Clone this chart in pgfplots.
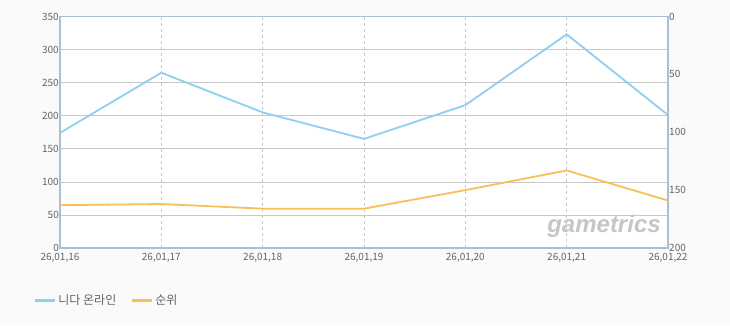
\documentclass[border=0pt]{standalone}
\usepackage{fontspec}
\setmainfont{Noto Sans CJK KR}
\newfontfamily\wmfont{Liberation Sans}
\usepackage{pgfplots}
\pgfplotsset{compat=1.18}
\definecolor{bluel}{RGB}{143,207,240}
\definecolor{orangel}{RGB}{250,190,90}
\definecolor{framec}{RGB}{170,190,214}
\definecolor{gridc}{RGB}{200,200,200}
\definecolor{bgc}{RGB}{250,250,250}
\definecolor{labelc}{RGB}{100,100,100}
\begin{document}
\begin{tikzpicture}[x=1pt,y=1pt]
\fill[bgc] (0,0) rectangle (730,325);
\begin{axis}[
  at={(60pt,77pt)}, anchor=south west,
  scale only axis, width=608pt, height=231.5pt,
  xmin=0, xmax=6, ymin=0, ymax=350,
  axis background/.style={fill=white},
  xtick={0,...,6},
  xticklabels={{26,01,16},{26,01,17},{26,01,18},{26,01,19},{26,01,20},{26,01,21},{26,01,22}},
  ytick={0,50,...,350},
  major tick length=0pt,
  xmajorgrids, ymajorgrids,
  x grid style={gridc, dashed, line width=0.6pt},
  y grid style={gridc, line width=0.7pt},
  axis line style={draw=framec, line width=1.6pt},
  tick label style={font=\fontsize{10}{12}\selectfont, text=labelc},
  yticklabel style={inner sep=1pt},
  xticklabel style={inner sep=0pt, yshift=-5.5pt},
  /pgf/number format/assume math mode=true,
  clip=false,
]
\addplot[bluel, line width=1.8pt] coordinates {(0,174) (1,265) (2,205) (3,165) (4,216) (5,323) (6,201)};
\end{axis}
\begin{axis}[
  at={(60pt,77pt)}, anchor=south west,
  scale only axis, width=608pt, height=231.5pt,
  xmin=0, xmax=6, ymin=0, ymax=200, y dir=reverse,
  axis x line=none, axis y line*=right,
  ytick={0,50,...,200},
  major tick length=0pt,
  axis line style={draw=framec, line width=1.6pt},
  tick label style={font=\fontsize{10}{12}\selectfont, text=labelc},
  yticklabel style={inner sep=1pt},
  /pgf/number format/assume math mode=true,
  legend columns=2,
  legend style={at={(-0.049,-0.2246)}, anchor=west, draw=none, fill=none,
    font=\fontsize{12}{14}\selectfont, text=labelc,
    /tikz/every even column/.append style={column sep=12pt}},
  legend image code/.code={\draw[#1, line width=3pt] (0pt,0pt) -- (20pt,0pt);},
  clip=false,
]
\addlegendimage{bluel}
\addlegendentry{니다 온라인}
\addplot[orangel, line width=1.8pt] coordinates {(0,163) (1,162) (2,166) (3,166) (4,150) (5,133) (6,159)};
\addlegendentry{순위}
\node[anchor=south east, inner sep=0pt, text=gray!45, font=\wmfont\bfseries\itshape\fontsize{24}{24}\selectfont] at (axis cs:5.93,191) {gametrics};
\end{axis}
\end{tikzpicture}
\end{document}
